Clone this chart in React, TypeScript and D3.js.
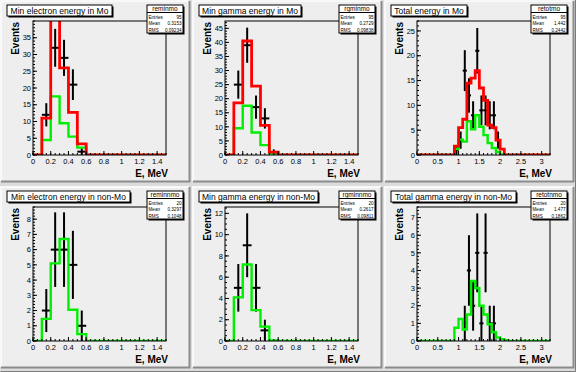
import React from "react";
import * as d3 from "d3";

// ---------- data ----------
const binWidth = 0.1;

// Pad 1: Min electron energy in Mo
const emMoPtsX = [0.15, 0.25, 0.35, 0.45, 0.55];
const emMoPtsY = [12, 32, 29, 21, 1];
const emMoRedStart = 0.1;
const emMoRed = [11, 44, 26, 12.7, 3.3];
const emMoGreenStart = 0.1;
const emMoGreen = [4.5, 17.5, 9.5, 5.5, 2.2];

// Pad 2: Min gamma energy in Mo
const gmMoPtsX = [0.15, 0.25, 0.35, 0.45, 0.55];
const gmMoPtsY = [25, 39, 17, 13, 1];
const gmMoRedStart = 0.1;
const gmMoRed = [18.5, 40.5, 24.5, 10.5, 1];
const gmMoGreenStart = 0.1;
const gmMoGreen = [9.5, 17.5, 8, 3.5, 0.6];

// Pad 3: Total energy in Mo
const totMoPtsX = [0.95, 1.05, 1.15, 1.25, 1.35, 1.45, 1.55, 1.65, 1.75, 1.85, 1.95];
const totMoPtsY = [1, 3, 17, 12, 8, 21, 9, 9, 8, 8, 3];
const totMoRedStart = 0.9;
const totMoRed = [1.8, 5.5, 7.2, 14.5, 15.5, 17, 13.5, 11, 6, 5.5, 3, 1.2];
const totMoGreenStart = 0.9;
const totMoGreen = [1.2, 3.1, 2.7, 6.8, 5.2, 8, 5.7, 4, 2.4, 1.4, 0.6, 0.1];

// Pad 4: Min electron energy in non-Mo
const emNMoPtsX = [0.15, 0.25, 0.35, 0.45, 0.55];
const emNMoPtsY = [2, 6, 6, 5, 1];
const emNMoGreenStart = 0.1;
const emNMoGreen = [1.45, 5.1, 6.7, 2.05, 0.45];

// Pad 5: Min gamma energy in non-Mo
const gmNMoPtsX = [0.15, 0.25, 0.35, 0.45];
const gmNMoPtsY = [5, 9, 5, 1];
const gmNMoGreenStart = 0.1;
const gmNMoGreen = [4.1, 7.2, 2.9, 1.35, 0.05];

// Pad 6: Total gamma energy in non-Mo
const totNMoPtsX = [1.15, 1.25, 1.35, 1.45, 1.55, 1.65, 1.75, 1.85];
const totNMoPtsY = [1, 4, 2, 5, 1, 5, 1, 1];
const totNMoGreenStart = 0.9;
const totNMoGreen = [0.75, 1.25, 0.65, 1.5, 3.4, 3.0, 2.0, 1.5, 0.95, 0.5, 0.2, 0.1, 0.05];

const padTitles = [
  "Min electron energy in Mo",
  "Min gamma energy in Mo",
  "Total energy in Mo",
  "Min electron energy in non-Mo",
  "Min gamma energy in non-Mo",
  "Total gamma energy in non-Mo",
];
const statNames = ["reminmo", "rgminmo", "retotmo", "reminnmo", "rgminnmo", "retotnmo"];
const statEntries = ["95", "95", "95", "20", "20", "20"];
const statMeans = ["0.3153", "0.2729", "1.442", "0.3297", "0.2617", "1.477"];
const statRms = ["0.09234", "0.09838", "0.2442", "0.1048", "0.09811", "0.1862"];

const xMaxes = [1.5, 1.5, 3.2, 1.5, 1.5, 3.2];
const yMaxes = [40, 47.6, 27, 8.8, 12.6, 7.6];
const xLabelTicks = [
  [0, 0.2, 0.4, 0.6, 0.8, 1, 1.2, 1.4],
  [0, 0.2, 0.4, 0.6, 0.8, 1, 1.2, 1.4],
  [0, 0.5, 1, 1.5, 2, 2.5, 3],
  [0, 0.2, 0.4, 0.6, 0.8, 1, 1.2, 1.4],
  [0, 0.2, 0.4, 0.6, 0.8, 1, 1.2, 1.4],
  [0, 0.5, 1, 1.5, 2, 2.5, 3],
];
const yLabelTicks = [
  [0, 5, 10, 15, 20, 25, 30, 35],
  [0, 5, 10, 15, 20, 25, 30, 35, 40, 45],
  [0, 5, 10, 15, 20, 25],
  [0, 1, 2, 3, 4, 5, 6, 7, 8],
  [0, 2, 4, 6, 8, 10, 12],
  [0, 1, 2, 3, 4, 5, 6, 7],
];

// ---------- layout / style ----------
const W = 576;
const H = 372;
const CELL_W = 192;
const CELL_H = 186;
const FR = { l: 33, r: 166, t: 21, b: 155 };
const titleWidths = [105, 102, 76, 123, 119, 125];
const FONT = "'Liberation Sans', Arial, Helvetica, sans-serif";
const PAD_FILL = "#eeeeee";
const CANVAS_FILL = "#dcdcdc";

type Pad = {
  title: string;
  ptsX: number[];
  ptsY: number[];
  red?: { start: number; vals: number[] };
  green: { start: number; vals: number[] };
  xMax: number;
  yMax: number;
  xTicks: number[];
  yTicks: number[];
};

const pads: Pad[] = [
  { title: padTitles[0], ptsX: emMoPtsX, ptsY: emMoPtsY, red: { start: emMoRedStart, vals: emMoRed }, green: { start: emMoGreenStart, vals: emMoGreen }, xMax: xMaxes[0], yMax: yMaxes[0], xTicks: xLabelTicks[0], yTicks: yLabelTicks[0] },
  { title: padTitles[1], ptsX: gmMoPtsX, ptsY: gmMoPtsY, red: { start: gmMoRedStart, vals: gmMoRed }, green: { start: gmMoGreenStart, vals: gmMoGreen }, xMax: xMaxes[1], yMax: yMaxes[1], xTicks: xLabelTicks[1], yTicks: yLabelTicks[1] },
  { title: padTitles[2], ptsX: totMoPtsX, ptsY: totMoPtsY, red: { start: totMoRedStart, vals: totMoRed }, green: { start: totMoGreenStart, vals: totMoGreen }, xMax: xMaxes[2], yMax: yMaxes[2], xTicks: xLabelTicks[2], yTicks: yLabelTicks[2] },
  { title: padTitles[3], ptsX: emNMoPtsX, ptsY: emNMoPtsY, green: { start: emNMoGreenStart, vals: emNMoGreen }, xMax: xMaxes[3], yMax: yMaxes[3], xTicks: xLabelTicks[3], yTicks: yLabelTicks[3] },
  { title: padTitles[4], ptsX: gmNMoPtsX, ptsY: gmNMoPtsY, green: { start: gmNMoGreenStart, vals: gmNMoGreen }, xMax: xMaxes[4], yMax: yMaxes[4], xTicks: xLabelTicks[4], yTicks: yLabelTicks[4] },
  { title: padTitles[5], ptsX: totNMoPtsX, ptsY: totNMoPtsY, green: { start: totNMoGreenStart, vals: totNMoGreen }, xMax: xMaxes[5], yMax: yMaxes[5], xTicks: xLabelTicks[5], yTicks: yLabelTicks[5] },
];

function fmt(v: number) {
  return String(+v.toFixed(2));
}

function histPath(
  h: { start: number; vals: number[] },
  xMax: number,
  x: d3.ScaleLinear<number, number>,
  y: d3.ScaleLinear<number, number>
) {
  const nBins = Math.round(xMax / binWidth);
  const off = Math.round(h.start / binWidth);
  const pts: [number, number][] = [];
  for (let i = 0; i < nBins; i++) {
    const j = i - off;
    const v = j >= 0 && j < h.vals.length ? h.vals[j] : 0;
    pts.push([i * binWidth, v]);
  }
  pts.push([xMax, pts[pts.length - 1][1]]);
  const line = d3
    .line<[number, number]>()
    .x((d) => x(d[0]))
    .y((d) => y(d[1]))
    .curve(d3.curveStepAfter);
  return line(pts) || "";
}

function PadView({ pad, idx }: { pad: Pad; idx: number }) {
  const col = idx % 3;
  const row = Math.floor(idx / 3);
  const ox = col * CELL_W;
  const oy = row * CELL_H;
  const x = d3.scaleLinear().domain([0, pad.xMax]).range([FR.l, FR.r]);
  const y = d3.scaleLinear().domain([0, pad.yMax]).range([FR.b, FR.t]);
  const clipId = `clip${idx}`;

  const xMajorStep = pad.xTicks[1] - pad.xTicks[0];
  const xMinorStep = xMajorStep === 0.5 ? 0.1 : 0.05;
  const xMinor = d3.range(0, pad.xMax + 1e-9, xMinorStep);
  const yMajorStep = pad.yTicks[1] - pad.yTicks[0];
  const yMinorStep = yMajorStep === 5 ? 1 : yMajorStep === 2 ? 0.5 : 0.2;
  const yMinor = d3.range(0, pad.yMax + 1e-9, yMinorStep);
  const majLen = 4;
  const minLen = 2;

  const pw = 188;
  const ph = 180;
  const tw = titleWidths[idx];

  return (
    <g transform={`translate(${ox},${oy})`}>
      {/* pad with bevel */}
      <rect x={1} y={1} width={pw} height={ph} fill={PAD_FILL} />
      <path d={`M1,${ph + 1} L1,1 L${pw + 1},1`} fill="none" stroke="#ffffff" strokeWidth={1.5} />
      <path d={`M1,${ph + 1.5} L${pw + 1.5},${ph + 1.5} L${pw + 1.5},1`} fill="none" stroke="#8c8c8c" strokeWidth={2} />

      <clipPath id={clipId}>
        <rect x={FR.l} y={FR.t} width={FR.r - FR.l} height={FR.b - FR.t} />
      </clipPath>

      {/* frame fill */}
      <rect x={FR.l} y={FR.t} width={FR.r - FR.l} height={FR.b - FR.t} fill={PAD_FILL} />

      <g clipPath={`url(#${clipId})`}>
        {/* data points with error bars */}
        {pad.ptsX.map((px, i) => {
          const v = pad.ptsY[i];
          const e = Math.sqrt(v);
          return (
            <g key={i} stroke="#000" strokeWidth={2}>
              <line x1={x(px - binWidth / 2)} x2={x(px + binWidth / 2)} y1={y(v)} y2={y(v)} />
              <line x1={x(px)} x2={x(px)} y1={y(Math.max(0, v - e))} y2={y(v + e)} />
            </g>
          );
        })}
        <path d={histPath(pad.green, pad.xMax, x, y)} fill="none" stroke="#00ee00" strokeWidth={2.4} />
        {pad.red && (
          <path d={histPath(pad.red, pad.xMax, x, y)} fill="none" stroke="#ff0000" strokeWidth={2.8} />
        )}
      </g>

      {/* frame */}
      <rect x={FR.l} y={FR.t} width={FR.r - FR.l} height={FR.b - FR.t} fill="none" stroke="#000" strokeWidth={1} />

      {/* ticks */}
      <g stroke="#000" strokeWidth={1}>
        {xMinor.map((v, i) => (
          <line key={"xm" + i} x1={x(v)} x2={x(v)} y1={FR.b} y2={FR.b - minLen} />
        ))}
        {pad.xTicks.map((v, i) => (
          <line key={"xM" + i} x1={x(v)} x2={x(v)} y1={FR.b} y2={FR.b - majLen} />
        ))}
        {yMinor.map((v, i) => (
          <line key={"ym" + i} x1={FR.l} x2={FR.l + minLen} y1={y(v)} y2={y(v)} />
        ))}
        {pad.yTicks.map((v, i) => (
          <line key={"yM" + i} x1={FR.l} x2={FR.l + majLen} y1={y(v)} y2={y(v)} />
        ))}
      </g>
      <g fontFamily={FONT} fontSize={7.5} fill="#000">
        {pad.xTicks.map((v, i) => (
          <text key={"xl" + i} x={x(v)} y={FR.b + 8.5} textAnchor="middle">
            {fmt(v)}
          </text>
        ))}
        {pad.yTicks.map((v, i) => (
          <text key={"yl" + i} x={FR.l - 2} y={y(v) + 2.7} textAnchor="end">
            {fmt(v)}
          </text>
        ))}
      </g>

      {/* axis titles */}
      <text x={168} y={177} textAnchor="end" fontFamily={FONT} fontWeight="bold" fontSize={10}>
        E, MeV
      </text>
      <text
        transform={`translate(18.5,${FR.t + 1}) rotate(-90)`}
        textAnchor="end"
        fontFamily={FONT}
        fontWeight="bold"
        fontSize={10}
      >
        Events
      </text>

      {/* title box */}
      <rect x={8.5} y={6.5} width={tw} height={11} fill="#000" />
      <rect x={7} y={5} width={tw} height={11} fill="#fff" stroke="#000" strokeWidth={1} />
      <text x={7 + tw / 2} y={13.6} textAnchor="middle" fontFamily={FONT} fontSize={8.5}>
        {pad.title}
      </text>

      {/* stats box */}
      <rect x={148.5} y={6.5} width={36} height={28} fill="#000" />
      <rect x={147} y={5} width={36} height={28} fill="#fff" stroke="#000" strokeWidth={1} />
      <line x1={147} x2={183} y1={12.5} y2={12.5} stroke="#000" strokeWidth={1} />
      <text x={165} y={11} textAnchor="middle" fontFamily={FONT} fontSize={6.5}>
        {statNames[idx]}
      </text>
      <g fontFamily={FONT} fontSize={4.6}>
        {[
          ["Entries", statEntries[idx]],
          ["Mean", statMeans[idx]],
          ["RMS", statRms[idx]],
        ].map((r, i) => (
          <g key={i}>
            <text x={148.5} y={18.5 + i * 6.5}>
              {r[0]}
            </text>
            <text x={181.5} y={18.5 + i * 6.5} textAnchor="end">
              {r[1]}
            </text>
          </g>
        ))}
      </g>
    </g>
  );
}

export default function App() {
  return (
    <svg
      width={W}
      height={H}
      style={{ position: "absolute", left: 0, top: 0, display: "block" }}
      xmlns="http://www.w3.org/2000/svg"
    >
      <rect x={0} y={0} width={W} height={H} fill={CANVAS_FILL} />
      {pads.map((p, i) => (
        <PadView key={i} pad={p} idx={i} />
      ))}
      <path d={`M0.5,${H - 0.5} L${W - 0.5},${H - 0.5} L${W - 0.5},0`} fill="none" stroke="#7a7a7a" strokeWidth={1} />
    </svg>
  );
}
